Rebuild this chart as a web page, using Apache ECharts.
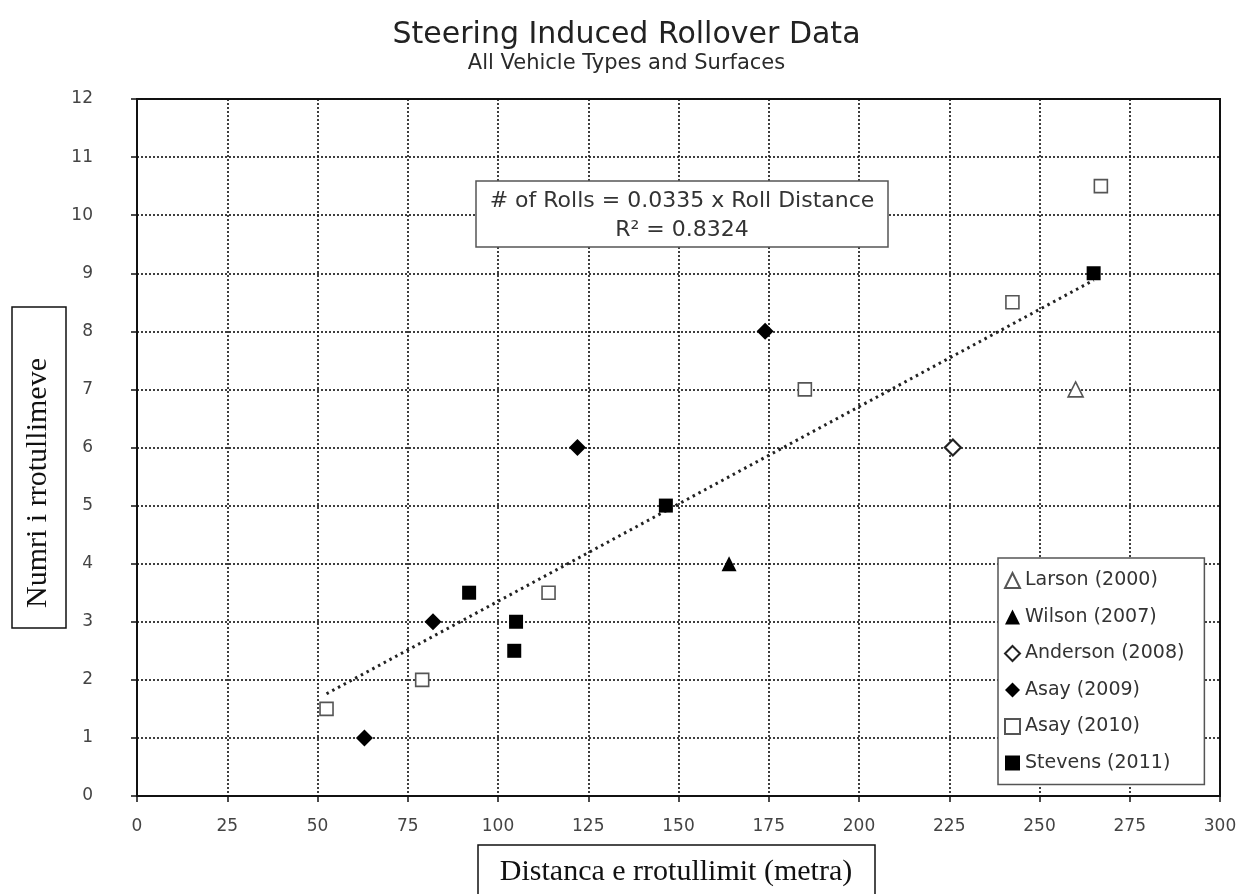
<!DOCTYPE html>
<html>
<head>
<meta charset="utf-8">
<script src="https://cdn.jsdelivr.net/npm/echarts@6/dist/echarts.min.js"></script>
<style>html,body{margin:0;padding:0;background:#fff;}#c{width:1253px;height:894px;}</style>
</head>
<body>
<div id="c"></div>
<script>
var larson2000 = [[260, 7]];
var wilson2007 = [[164, 4]];
var anderson2008 = [[226, 6]];
var asay2009 = [[63, 1], [82, 3], [122, 6], [174, 8]];
var asay2010 = [[52.5, 1.5], [79, 2], [114, 3.5], [185, 7], [242.5, 8.5], [267, 10.5]];
var stevens2011 = [[92, 3.5], [105, 3], [104.5, 2.5], [146.5, 5], [265, 9]];
var trendLine = [[52.5, 1.76], [265, 8.88]];
var xTicks = [0, 25, 50, 75, 100, 125, 150, 175, 200, 225, 250, 275, 300];
var yTicks = [0, 1, 2, 3, 4, 5, 6, 7, 8, 9, 10, 11, 12];

var chart = echarts.init(document.getElementById('c'));
var openStyle = {color: '#ffffff', borderColor: '#555', borderWidth: 1.6, opacity: 1};
var fillStyle = {color: '#000', borderColor: '#000', borderWidth: 0, opacity: 1};

chart.setOption({
  animation: false,
  backgroundColor: '#fff',
  title: {
    text: 'Steering Induced Rollover Data',
    subtext: 'All Vehicle Types and Surfaces',
    left: 'center', top: 15, itemGap: 3,
    textStyle: {fontFamily: 'DejaVu Sans', fontSize: 30, fontWeight: 'normal', color: '#222'},
    subtextStyle: {fontFamily: 'DejaVu Sans', fontSize: 21, color: '#2a2a2a'}
  },
  grid: {left: 137, right: 33, top: 99, bottom: 98, show: true, borderColor: '#111', borderWidth: 2, backgroundColor: 'transparent'},
  legend: {
    orient: 'vertical', left: 998, top: 558,
    backgroundColor: '#fff', borderColor: '#555', borderWidth: 1.5,
    padding: [13, 20, 12, 6], itemGap: 17.5, itemWidth: 15, itemHeight: 15,
    textStyle: {fontFamily: 'DejaVu Sans', fontSize: 19, color: '#333'},
    data: ['Larson (2000)', 'Wilson (2007)', 'Anderson (2008)', 'Asay (2009)', 'Asay (2010)', 'Stevens (2011)']
  },
  xAxis: {
    type: 'value', min: xTicks[0], max: xTicks[xTicks.length - 1], interval: 25,
    axisLine: {show: true, lineStyle: {color: '#111', width: 2}},
    axisTick: {show: true, length: 6, lineStyle: {color: '#111', width: 1.5}},
    axisLabel: {margin: 22, fontFamily: 'DejaVu Sans', fontSize: 17, color: '#444'},
    splitLine: {show: true, lineStyle: {type: [2, 2], color: '#111', width: 1.6}}
  },
  yAxis: {
    type: 'value', min: yTicks[0], max: yTicks[yTicks.length - 1], interval: 1,
    axisLine: {show: true, lineStyle: {color: '#111', width: 2}},
    axisTick: {show: true, length: 6, lineStyle: {color: '#111', width: 1.5}},
    axisLabel: {margin: 44, fontFamily: 'DejaVu Sans', fontSize: 17, color: '#444'},
    splitLine: {show: true, lineStyle: {type: [2, 2], color: '#111', width: 1.6}}
  },
  graphic: [
    {type: 'rect', z: 100, shape: {x: 476, y: 181, width: 412, height: 66}, style: {fill: '#fff', stroke: '#555', lineWidth: 1.5}},
    {type: 'text', z: 101, style: {x: 682, y: 201, text: '# of Rolls = 0.0335 x Roll Distance', textAlign: 'center', textVerticalAlign: 'middle', font: '22px "DejaVu Sans"', fill: '#333'}},
    {type: 'text', z: 101, style: {x: 682, y: 230, text: 'R² = 0.8324', textAlign: 'center', textVerticalAlign: 'middle', font: '22px "DejaVu Sans"', fill: '#333'}},
    {type: 'rect', z: 100, shape: {x: 12, y: 307, width: 54, height: 321}, style: {fill: '#fff', stroke: '#111', lineWidth: 1.5}},
    {type: 'text', z: 101, x: 38, y: 483, rotation: Math.PI / 2, style: {x: 0, y: 0, text: 'Numri i rrotullimeve', textAlign: 'center', textVerticalAlign: 'middle', font: '30px "Liberation Serif"', fill: '#111'}},
    {type: 'rect', z: 100, shape: {x: 478, y: 845, width: 397, height: 60}, style: {fill: '#fff', stroke: '#111', lineWidth: 1.5}},
    {type: 'text', z: 101, style: {x: 676, y: 872, text: 'Distanca e rrotullimit (metra)', textAlign: 'center', textVerticalAlign: 'middle', font: '30px "Liberation Serif"', fill: '#111'}}
  ],
  series: [
    {name: 'Trend', type: 'line', data: trendLine, symbol: 'none', z: 3, silent: true,
     lineStyle: {color: '#222', width: 3, type: [2.5, 4]}},
    {name: 'Larson (2000)', type: 'scatter', data: larson2000, symbol: 'triangle', symbolSize: 15, itemStyle: openStyle, z: 5},
    {name: 'Wilson (2007)', type: 'scatter', data: wilson2007, symbol: 'triangle', symbolSize: 15, itemStyle: fillStyle, z: 5},
    {name: 'Anderson (2008)', type: 'scatter', data: anderson2008, symbol: 'diamond', symbolSize: 16, itemStyle: {color: '#fff', borderColor: '#222', borderWidth: 2.2, opacity: 1}, z: 5},
    {name: 'Asay (2009)', type: 'scatter', data: asay2009, symbol: 'diamond', symbolSize: 17, itemStyle: fillStyle, z: 5},
    {name: 'Asay (2010)', type: 'scatter', data: asay2010, symbol: 'rect', symbolSize: 13, itemStyle: openStyle, z: 5},
    {name: 'Stevens (2011)', type: 'scatter', data: stevens2011, symbol: 'rect', symbolSize: 14, itemStyle: fillStyle, z: 5}
  ]
});
</script>
</body>
</html>
